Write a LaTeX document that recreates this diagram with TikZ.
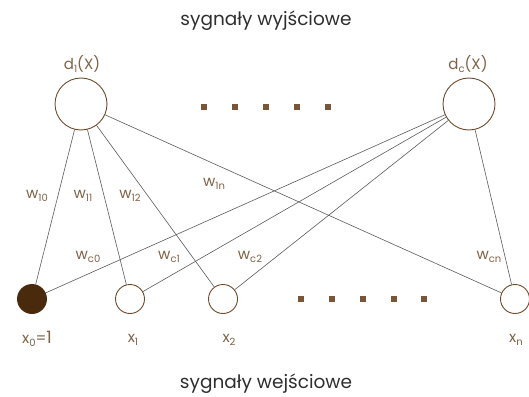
\documentclass[tikz,border=0pt]{standalone}
\usepackage{fontspec}
\setmainfont{Poppins}
\definecolor{ring}{HTML}{6E4A2A}
\definecolor{solid}{HTML}{4A2A0C}
\definecolor{lbl}{HTML}{7E6246}
\definecolor{edge}{HTML}{5A5A5A}
\definecolor{dotc}{HTML}{7A5538}
\definecolor{title}{HTML}{2E2E2E}
\newcommand\lowsub[1]{\raisebox{-0.4ex}{\fontsize{10}{10}\selectfont #1}}
\begin{document}
\begin{tikzpicture}[x=1pt,y=-1pt,
  outunit/.style={circle,draw=ring,line width=0.9pt,minimum size=52pt,inner sep=0pt},
  inunit/.style={circle,draw=ring,line width=0.9pt,minimum size=29pt,inner sep=0pt,fill=white},
  biasunit/.style={inunit,fill=solid,draw=solid},
  link/.style={draw=edge,line width=0.6pt},
  wlbl/.style={text=lbl,font=\fontsize{15}{15}\selectfont,inner sep=0pt},
  headlbl/.style={text=title,font=\fontsize{18.5}{18.5}\selectfont,inner sep=0pt},
  dotsq/.style={fill=dotc,draw=none,minimum size=6pt,inner sep=0pt,rectangle}]
\useasboundingbox (0,0) rectangle (529,396);

% output units
\node[outunit] (d1) at (81,104) {};
\node[outunit] (dc) at (469,104) {};
\node[wlbl] (d1l) at (82,64) {d\lowsub{1}(X)};
\node[wlbl] (dcl) at (468,64) {d\lowsub{c}(X)};

% input units
\node[biasunit] (x0) at (32,299) {};
\node[inunit] (x1) at (130,299) {};
\node[inunit] (x2) at (223,299) {};
\node[inunit] (xn) at (515,299) {};

% connections
\foreach \t in {x0,x1,x2,xn}{
  \draw[link] (d1) -- (\t);
  \draw[link] (dc) -- (\t);
}

% ellipsis squares
\foreach \i/\xx in {1/204,2/235,3/266,4/297,5/328}
  \node[dotsq] (top\i) at (\xx,107) {};
\foreach \i/\xx in {1/301,2/332,3/363,4/394,5/424}
  \node[dotsq] (bot\i) at (\xx,299) {};

% weights
\node[wlbl] (w10) at (37,196) {w\lowsub{10}};
\node[wlbl] (w11) at (83,196) {w\lowsub{11}};
\node[wlbl] (w12) at (130,196) {w\lowsub{12}};
\node[wlbl] (w1n) at (214,184) {w\lowsub{1n}};
\node[wlbl] (wc0) at (88,257) {w\lowsub{c0}};
\node[wlbl] (wc1) at (169,257) {w\lowsub{c1}};
\node[wlbl] (wc2) at (250,257) {w\lowsub{c2}};
\node[wlbl] (wcn) at (489,257) {w\lowsub{cn}};

% input labels
\node[wlbl] (x0l) at (37,339) {x\lowsub{0}={\fontsize{17}{17}\selectfont 1}};
\node[wlbl] (x1l) at (133,340) {x\lowsub{1}};
\node[wlbl] (x2l) at (229,340) {x\lowsub{2}};
\node[wlbl] (xnl) at (516,340) {x\lowsub{n}};

% titles
\node[headlbl] (outs) at (266,21) {sygnały wyjściowe};
\node[headlbl] (ins) at (266,384) {sygnały wejściowe};
\end{tikzpicture}
\end{document}
